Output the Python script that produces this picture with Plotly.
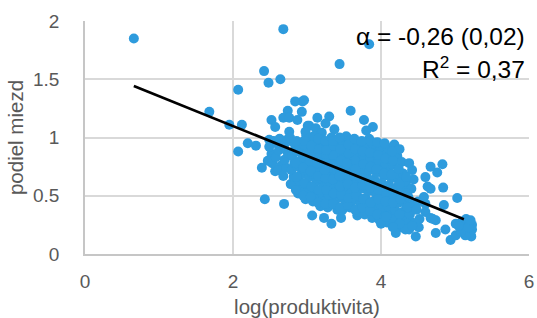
import plotly.graph_objects as go

# ---- data (log productivity, wage share) ----
outliers = [
    (0.66, 1.85), (2.68, 1.93), (2.42, 1.57), (2.48, 1.47), (2.64, 1.50), (2.07, 1.41),
    (1.68, 1.22), (1.95, 1.11), (2.12, 1.11), (2.84, 1.31), (2.94, 1.31), (2.74, 1.23),
    (2.93, 1.22), (2.68, 1.17), (2.76, 1.17), (2.87, 1.15), (2.52, 1.15), (2.57, 1.09),
    (2.76, 1.05), (3.01, 1.10), (3.84, 1.80), (3.44, 1.63), (2.96, 1.32), (3.59, 1.23),
    (3.30, 1.18), (3.14, 1.17), (3.77, 1.15), (3.89, 1.09), (3.80, 1.06), (3.03, 1.10),
    (3.37, 1.07), (2.07, 0.88), (2.20, 0.95), (2.31, 0.93), (2.39, 0.74), (2.57, 0.71),
    (2.43, 0.47), (2.69, 0.43), (2.83, 0.59), (3.07, 0.33), (3.23, 0.31), (3.33, 0.26),
    (3.41, 0.38), (3.46, 0.31), (3.68, 0.33), (3.84, 0.35), (2.99, 1.02), (3.08, 0.98),
    (2.49, 0.98), (2.54, 0.95), (2.98, 1.05), (3.12, 1.08), (3.20, 1.04), (3.25, 1.12),
]

core = [
    (2.47, 0.80), (2.52, 0.86), (2.49, 0.92), (2.55, 0.97), (2.53, 0.78),
    (2.58, 0.83), (2.62, 0.89), (2.60, 0.95), (2.65, 0.76), (2.63, 0.99), (2.61, 0.72),
    (2.68, 0.67), (2.72, 0.74), (2.70, 0.81), (2.74, 0.87), (2.69, 0.93), (2.73, 0.98),
    (2.78, 0.60), (2.82, 0.66), (2.79, 0.72), (2.83, 0.78), (2.80, 0.84), (2.84, 0.90),
    (2.81, 0.96), (2.77, 1.00),
    (2.88, 0.52), (2.92, 0.57), (2.89, 0.63), (2.93, 0.69), (2.87, 0.75), (2.91, 0.80),
    (2.94, 0.86), (2.90, 0.92), (2.86, 0.97),
    (2.98, 0.47), (3.02, 0.54), (2.99, 0.60), (3.03, 0.66), (2.97, 0.72), (3.01, 0.77),
    (3.04, 0.83), (3.00, 0.89), (2.96, 0.94), (3.02, 0.99),
    (3.08, 0.45), (3.12, 0.51), (3.09, 0.57), (3.13, 0.63), (3.07, 0.69), (3.11, 0.74),
    (3.14, 0.80), (3.10, 0.85), (3.06, 0.91), (3.12, 0.96), (3.09, 1.01),
    (3.18, 0.41), (3.22, 0.47), (3.19, 0.53), (3.23, 0.59), (3.17, 0.65), (3.21, 0.71),
    (3.24, 0.76), (3.20, 0.82), (3.16, 0.87), (3.22, 0.93), (3.19, 0.98),
    (3.28, 0.40), (3.32, 0.45), (3.29, 0.51), (3.33, 0.57), (3.27, 0.62), (3.31, 0.68),
    (3.34, 0.74), (3.30, 0.79), (3.26, 0.84), (3.32, 0.90), (3.29, 0.95), (3.33, 1.00),
    (3.38, 0.42), (3.42, 0.48), (3.39, 0.54), (3.43, 0.60), (3.37, 0.66), (3.41, 0.71),
    (3.44, 0.77), (3.40, 0.82), (3.36, 0.88), (3.42, 0.93), (3.39, 0.98),
    (3.48, 0.38), (3.52, 0.44), (3.49, 0.50), (3.53, 0.57), (3.47, 0.63), (3.51, 0.69),
    (3.54, 0.74), (3.50, 0.80), (3.46, 0.85), (3.52, 0.91), (3.49, 0.96), (3.53, 1.01),
    (3.58, 0.40), (3.62, 0.46), (3.59, 0.52), (3.63, 0.59), (3.57, 0.65), (3.61, 0.70),
    (3.64, 0.76), (3.60, 0.82), (3.56, 0.87), (3.62, 0.93), (3.59, 0.98),
    (3.68, 0.36), (3.72, 0.43), (3.69, 0.49), (3.73, 0.56), (3.67, 0.62), (3.71, 0.68),
    (3.74, 0.73), (3.70, 0.79), (3.66, 0.85), (3.72, 0.91), (3.69, 0.96),
    (3.78, 0.34), (3.82, 0.41), (3.79, 0.48), (3.83, 0.54), (3.77, 0.60), (3.81, 0.66),
    (3.84, 0.72), (3.80, 0.78), (3.76, 0.84), (3.82, 0.90), (3.79, 0.95), (3.84, 0.99),
    (3.88, 0.31), (3.92, 0.38), (3.89, 0.45), (3.93, 0.52), (3.87, 0.58), (3.91, 0.64),
    (3.94, 0.70), (3.90, 0.76), (3.86, 0.82), (3.92, 0.88), (3.89, 0.94),
    (3.98, 0.29), (4.02, 0.36), (3.99, 0.43), (4.03, 0.49), (3.97, 0.55), (4.01, 0.61),
    (4.04, 0.67), (4.00, 0.73), (3.96, 0.79), (4.02, 0.86), (3.99, 0.92),
    (4.08, 0.27), (4.12, 0.34), (4.09, 0.41), (4.13, 0.47), (4.07, 0.53), (4.11, 0.59),
    (4.14, 0.65), (4.10, 0.71), (4.06, 0.78), (4.12, 0.85), (4.09, 0.91),
    (4.18, 0.24), (4.22, 0.31), (4.19, 0.38), (4.23, 0.44), (4.17, 0.51), (4.21, 0.57),
    (4.24, 0.63), (4.20, 0.69), (4.16, 0.77), (4.22, 0.84), (4.18, 0.94), (4.25, 0.90),
    (4.28, 0.23), (4.32, 0.29), (4.29, 0.36), (4.33, 0.43), (4.27, 0.49), (4.31, 0.56),
    (4.34, 0.62), (4.30, 0.69), (4.28, 0.79),
    (4.38, 0.21), (4.42, 0.27), (4.39, 0.34), (4.43, 0.42), (4.37, 0.49), (4.41, 0.56),
    (4.44, 0.64), (4.42, 0.72), (4.38, 0.78),
    (3.25, 0.78), (3.45, 0.72), (3.35, 0.85), (3.55, 0.68), (3.15, 0.73), (3.65, 0.80),
]

core_fill = [
    (2.85, 0.55), (2.86, 0.66), (2.85, 0.78), (2.86, 0.88),
    (2.95, 0.50), (2.96, 0.61), (2.95, 0.74), (2.94, 0.83), (2.96, 0.97),
    (3.05, 0.49), (3.06, 0.58), (3.05, 0.71), (3.04, 0.80), (3.06, 0.93),
    (3.15, 0.44), (3.16, 0.55), (3.15, 0.67), (3.14, 0.78), (3.16, 0.90), (3.15, 0.99),
    (3.25, 0.43), (3.26, 0.55), (3.25, 0.65), (3.24, 0.72), (3.26, 0.89), (3.25, 0.97),
    (3.35, 0.43), (3.36, 0.52), (3.35, 0.64), (3.34, 0.77), (3.36, 0.93), (3.35, 0.97),
    (3.45, 0.40), (3.46, 0.51), (3.45, 0.58), (3.44, 0.67), (3.46, 0.80), (3.45, 0.90),
    (3.44, 1.00),
    (3.55, 0.42), (3.56, 0.48), (3.55, 0.60), (3.54, 0.78), (3.56, 0.94),
    (3.65, 0.38), (3.66, 0.50), (3.65, 0.57), (3.64, 0.67), (3.66, 0.73), (3.65, 0.90),
    (3.64, 0.99),
    (3.75, 0.40), (3.76, 0.47), (3.75, 0.59), (3.74, 0.65), (3.76, 0.77), (3.75, 0.88),
    (3.74, 0.97),
    (3.85, 0.37), (3.86, 0.44), (3.85, 0.57), (3.84, 0.63), (3.86, 0.75), (3.85, 0.87),
    (3.86, 0.97),
    (3.95, 0.34), (3.96, 0.47), (3.95, 0.61), (3.94, 0.73), (3.96, 0.85), (3.95, 0.96),
    (4.05, 0.32), (4.06, 0.45), (4.05, 0.58), (4.04, 0.69), (4.06, 0.82), (4.05, 0.95),
    (4.15, 0.30), (4.16, 0.44), (4.15, 0.55), (4.14, 0.68), (4.16, 0.80), (4.15, 0.88),
    (4.25, 0.34), (4.26, 0.47), (4.25, 0.60), (4.24, 0.73),
    (4.35, 0.26), (4.36, 0.40), (4.35, 0.52), (4.34, 0.66),
]

tail = [
    (4.00, 0.26), (4.20, 0.18), (4.33, 0.21), (4.47, 0.15), (4.51, 0.23), (4.74, 0.18),
    (4.87, 0.21), (4.94, 0.12), (5.01, 0.16), (5.01, 0.26), (5.03, 0.48), (4.85, 0.42),
    (4.84, 0.57), (4.67, 0.75), (4.83, 0.77), (4.76, 0.70), (4.60, 0.66), (4.63, 0.58),
    (4.67, 0.56), (4.58, 0.49), (4.47, 0.41), (4.60, 0.36), (4.67, 0.31), (4.74, 0.29),
    (4.50, 0.45), (4.48, 0.38), (4.52, 0.30), (4.60, 0.43), (4.70, 0.30), (4.25, 0.26),
    (4.07, 0.32), (4.16, 0.23), (4.42, 0.24),
    (5.10, 0.28), (5.15, 0.30), (5.19, 0.27), (5.23, 0.25), (5.23, 0.21), (5.12, 0.22),
    (5.17, 0.20), (5.21, 0.17), (5.22, 0.15), (5.14, 0.16), (5.08, 0.19), (5.18, 0.23),
    (5.05, 0.24), (5.21, 0.29),
]

trend_slope = -0.256
trend_intercept = 1.61
trend_x_max = 5.12

x_ticks = [0, 2, 4, 6]
y_ticks = [0, 0.5, 1, 1.5, 2]
alpha_label = "α = -0,26 (0,02)"
r2_label = "R<sup>2</sup> = 0,37"

# ---- figure ----
points = outliers + core + core_fill + tail
xs = [p[0] for p in points]
ys = [p[1] for p in points]

trend_x = [min(xs), trend_x_max]
trend_y = [trend_intercept + trend_slope * v for v in trend_x]

FONT = "Liberation Sans, Arial, sans-serif"
GREY = "#595959"

fig = go.Figure()
fig.add_trace(go.Scatter(
    x=xs, y=ys, mode="markers",
    marker=dict(color="#2E9BDD", size=10, line=dict(width=0)),
    showlegend=False,
))
fig.add_trace(go.Scatter(
    x=trend_x, y=trend_y, mode="lines",
    line=dict(color="black", width=2.7),
    showlegend=False,
))

fig.add_annotation(text=alpha_label, xref="paper", yref="paper", x=0.9955, y=0.932,
                   xanchor="right", yanchor="middle", showarrow=False,
                   font=dict(family=FONT, size=24.5, color="black"))
fig.add_annotation(text=r2_label, xref="paper", yref="paper", x=0.9955, y=0.80,
                   xanchor="right", yanchor="middle", showarrow=False,
                   font=dict(family=FONT, size=24.5, color="black"))

fig.update_layout(
    width=537, height=318,
    margin=dict(l=85, r=8, t=21, b=64),
    paper_bgcolor="white", plot_bgcolor="white",
    font=dict(family=FONT, color=GREY),
    xaxis=dict(
        range=[0, 6], tickvals=x_ticks, showgrid=True, gridcolor="#D9D9D9", gridwidth=1.5,
        zeroline=False, showline=True, linecolor="#C6C6C6", linewidth=1.5,
        tickfont=dict(size=19, color=GREY), ticklabelstandoff=9,
        title=dict(text="log(produktivita)", font=dict(size=20.5, color=GREY), standoff=9),
        automargin=False,
    ),
    yaxis=dict(
        range=[0, 2], tickvals=y_ticks, showgrid=True, gridcolor="#D9D9D9", gridwidth=1.5,
        zeroline=False, showline=True, linecolor="#C6C6C6", linewidth=1.5,
        tickfont=dict(size=19, color=GREY), ticklabelstandoff=20,
        title=dict(text="podiel miezd", font=dict(size=20.5, color=GREY), standoff=4),
        automargin=False,
    ),
)

fig.write_html("out.html", config={"displayModeBar": False},
               post_script="document.body.style.margin='0';")
